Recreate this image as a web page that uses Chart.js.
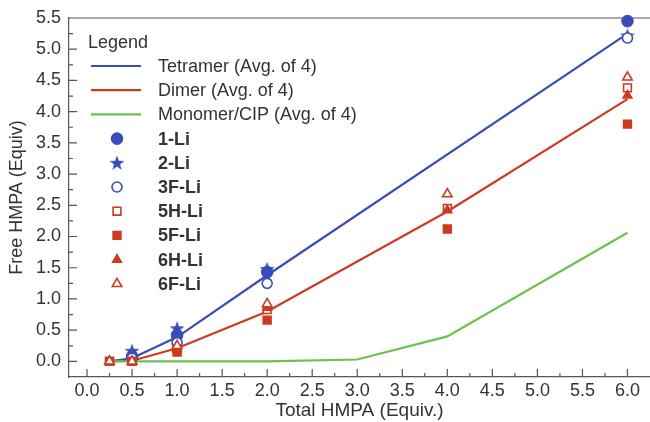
<!DOCTYPE html>
<html>
<head>
<meta charset="utf-8">
<script src="https://cdn.jsdelivr.net/npm/chart.js@4/dist/chart.umd.min.js"></script>
<style>
html,body{margin:0;padding:0;background:#fff;}
#wrap{width:650px;height:422px;position:relative;}
</style>
</head>
<body>
<div id="wrap"><canvas id="c"></canvas></div>
<script>
// Free vs total HMPA - averaged fits + individual compounds

const tetramerX = [0.25, 0.5, 1, 2, 6];
const tetramerY = [0, 0.05, 0.39, 1.38, 5.25];
const dimerX = [0.25, 0.5, 1, 2, 4, 6];
const dimerY = [0, 0.01, 0.21, 0.8, 2.4, 4.2];
const monomerX = [0.25, 0.5, 1, 2, 3, 4, 6];
const monomerY = [0, 0, 0, 0, 0.03, 0.4, 2.06];

const blueX = [0.5, 1, 2, 6];
const li1 = [0.08, 0.42, 1.43, 5.45];
const li2 = [0.17, 0.53, 1.48, 5.22];
const li3F = [0.05, 0.3, 1.25, 5.18];

const redX = [0.25, 0.5, 1, 2, 4, 6];
const li5H = [0, 0, 0.2, 0.83, 2.45, 4.38];
const li5F = [0, 0, 0.15, 0.66, 2.12, 3.8];
const li6H = [0, 0, 0.2, 0.86, 2.42, 4.26];
const li6F = [0, 0, 0.25, 0.92, 2.68, 4.55];

const xTicks = [0, 0.5, 1, 1.5, 2, 2.5, 3, 3.5, 4, 4.5, 5, 5.5, 6];
const yTicks = [0, 0.5, 1, 1.5, 2, 2.5, 3, 3.5, 4, 4.5, 5, 5.5];

const BLUE = '#3a4cba', RED = '#cc3a22', GREEN = '#6cc24a', AXIS = '#555', TXT = '#333';
const FAM = '"Liberation Sans", Arial, sans-serif';

function pts(xs, ys){ return xs.map((x, i) => ({x: x, y: ys[i]})); }

// filled 5-point star as point image
function makeStar(color){
    const cv = document.createElement('canvas');
    cv.width = 16; cv.height = 16;
    const g = cv.getContext('2d');
    g.fillStyle = color;
    g.beginPath();
    for(let i=0;i<10;i++){
        const r = i%2===0 ? 7.8 : 3.2;
        const a = -Math.PI/2 + i*Math.PI/5;
        g.lineTo(8 + r*Math.cos(a), 8.6 + r*Math.sin(a));
    }
    g.closePath(); g.fill();
    return cv;
}
const starImg = makeStar(BLUE);

function lineSet(label, xs, ys, color){
    return {label, data: pts(xs, ys), showLine: true, borderColor: color, borderWidth: 2.2,
        pointRadius: 0, pointHoverRadius: 0, fill: false, tension: 0, legendLine: true};
}
function markSet(label, xs, ys, style, color, filled, r){
    return {label, data: pts(xs, ys), showLine: false, pointStyle: style, pointRadius: r,
        pointBorderColor: color, pointBackgroundColor: filled ? color : '#fff',
        pointBorderWidth: 1.6, borderColor: color, backgroundColor: filled ? color : '#fff',
        clip: false};
}

const datasets = [
    lineSet('Tetramer (Avg. of 4)', tetramerX, tetramerY, BLUE),
    lineSet('Dimer (Avg. of 4)', dimerX, dimerY, RED),
    lineSet('Monomer/CIP (Avg. of 4)', monomerX, monomerY, GREEN),
    markSet('1-Li', blueX, li1, 'circle', BLUE, true, 5.5),
    markSet('2-Li', blueX, li2, starImg, BLUE, true, 7),
    markSet('3F-Li', blueX, li3F, 'circle', BLUE, false, 5),
    markSet('5H-Li', redX, li5H, 'rect', RED, false, 5.5),
    markSet('5F-Li', redX, li5F, 'rect', RED, true, 5.5),
    markSet('6H-Li', redX, li6H, 'triangle', RED, true, 5),
    markSet('6F-Li', redX, li6F, 'triangle', RED, false, 5.5)
];
// draw in reverse so 1-Li ends up on top
const drawOrder = datasets.slice().reverse();

// inward tick marks + top frame line
const frame = {
    id: 'frame',
    beforeDatasetsDraw(chart){
        const ctx = chart.ctx, a = chart.chartArea;
        const xs = chart.scales.x, ys = chart.scales.y;
        ctx.save();
        ctx.strokeStyle = AXIS; ctx.lineWidth = 1.2;
        ctx.beginPath();
        ctx.moveTo(a.left, a.top); ctx.lineTo(a.right, a.top);
        for(let v=0; v<=6.001; v+=0.25){
            const px = xs.getPixelForValue(v);
            const len = Math.abs(v*2 - Math.round(v*2)) < 1e-6 ? 8 : 4;
            ctx.moveTo(px, a.bottom); ctx.lineTo(px, a.bottom - len);
        }
        for(let v=0; v<=5.501; v+=0.25){
            const py = ys.getPixelForValue(v);
            const len = Math.abs(v*2 - Math.round(v*2)) < 1e-6 ? 8 : 4;
            ctx.moveTo(a.left, py); ctx.lineTo(a.left + len, py);
        }
        ctx.stroke();
        ctx.restore();
    }
};

// legend box in the top-left of the plot
const legendBox = {
    id: 'legendBox',
    afterDraw(chart){
        const ctx = chart.ctx;
        ctx.save();
        ctx.textBaseline = 'middle';
        ctx.fillStyle = TXT;
        ctx.font = '18px ' + FAM;
        ctx.fillText('Legend', 88, 43);
        let y = 66;
        datasets.forEach(ds => {
            if(ds.legendLine){
                ctx.strokeStyle = ds.borderColor; ctx.lineWidth = 2.2;
                ctx.beginPath(); ctx.moveTo(91, y); ctx.lineTo(141, y); ctx.stroke();
                ctx.fillStyle = TXT;
                ctx.font = '18px ' + FAM;
            } else {
                ctx.fillStyle = ds.pointBackgroundColor; ctx.strokeStyle = ds.pointBorderColor;
                ctx.lineWidth = ds.pointBorderWidth;
                Chart.helpers.drawPoint(ctx, {pointStyle: ds.pointStyle, radius: ds.pointRadius,
                    rotation: 0, borderWidth: ds.pointBorderWidth}, 117, y);
                ctx.fillStyle = TXT;
                ctx.font = 'bold 18px ' + FAM;
            }
            ctx.fillText(ds.label, 158, y + 1);
            y += 24.2;
        });
        ctx.restore();
    }
};

const tickFont = {family: FAM, size: 18};

new Chart(document.getElementById('c'), {
    type: 'scatter',
    data: {datasets: drawOrder},
    options: {
        responsive: true, maintainAspectRatio: false, animation: false,
        layout: {autoPadding: false, padding: {top: 18, right: 0, left: 0, bottom: 0}},
        plugins: {legend: {display: false}, tooltip: {enabled: false}},
        scales: {
            x: {
                type: 'linear', min: -0.2, max: 6.25,
                afterBuildTicks: s => { s.ticks = xTicks.map(v => ({value: v})); },
                afterFit: s => { s.height = 45; s.paddingLeft = 0; s.paddingRight = 0; },
                grid: {display: false, drawTicks: false},
                border: {display: true, color: AXIS, width: 1.2},
                ticks: {color: TXT, font: tickFont, padding: 3, maxRotation: 0, autoSkip: false,
                    callback: v => Number(v).toFixed(1)},
                title: {display: true, text: 'Total HMPA (Equiv.)', color: TXT,
                    font: {family: FAM, size: 19}, padding: {top: 0, bottom: 0}}
            },
            y: {
                type: 'linear', min: -0.25, max: 5.5,
                afterBuildTicks: s => { s.ticks = yTicks.map(v => ({value: v})); },
                afterFit: s => { s.width = 69; s.paddingTop = 0; s.paddingBottom = 0; },
                grid: {display: false, drawTicks: false},
                border: {display: true, color: AXIS, width: 1.2},
                ticks: {color: TXT, font: tickFont, padding: 8, autoSkip: false,
                    callback: v => Number(v).toFixed(1)},
                title: {display: true, text: 'Free HMPA (Equiv)', color: TXT, font: tickFont,
                    padding: {top: 6, bottom: 0}}
            }
        }
    },
    plugins: [frame, legendBox]
});
</script>
</body>
</html>
